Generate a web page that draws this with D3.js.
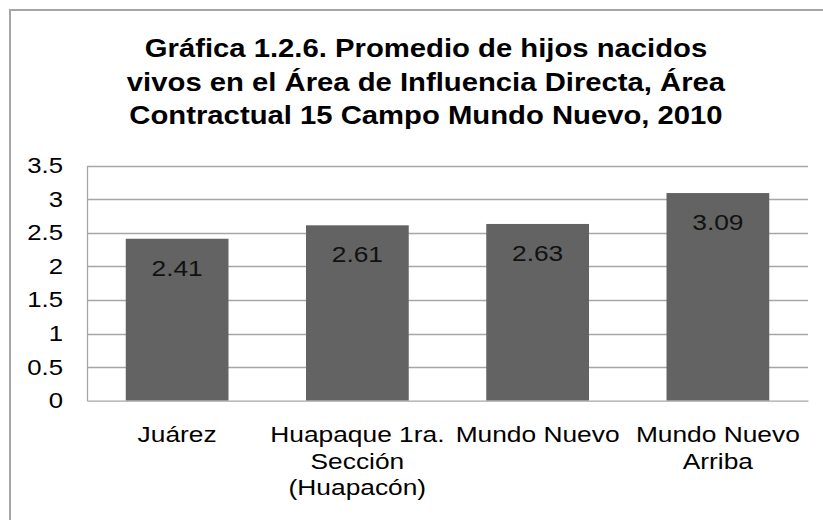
<!DOCTYPE html>
<html>
<head>
<meta charset="utf-8">
<script src="https://cdn.jsdelivr.net/npm/d3@7"></script>
<style>
  body { margin: 0; background: #fff; }
  text { font-family: "Liberation Sans", Arial, sans-serif; }
</style>
</head>
<body>
<script>
// datos
var categorias = [
  ["Juárez"],
  ["Huapaque 1ra.", "Sección", "(Huapacón)"],
  ["Mundo Nuevo"],
  ["Mundo Nuevo", "Arriba"]
];
var valores = [2.41, 2.61, 2.63, 3.09];
var ticksY = [0, 0.5, 1, 1.5, 2, 2.5, 3, 3.5];
var titulo = [
  "Gráfica 1.2.6. Promedio de hijos nacidos",
  "vivos en el Área de Influencia Directa, Área",
  "Contractual 15 Campo Mundo Nuevo, 2010"
];

var ancho = 823, alto = 520;
var plotIzq = 87, plotDer = 808, plotArriba = 165.5, plotAbajo = 400.7;
var estirar = 1.17; // el texto del original sale mas ancho

var svg = d3.select("body").append("svg")
  .attr("width", ancho)
  .attr("height", alto);

// marco
svg.append("rect")
  .attr("x", 10).attr("y", 10)
  .attr("width", 830).attr("height", 530)
  .attr("fill", "white")
  .attr("stroke", "#a6a6a6")
  .attr("stroke-width", 2);

// titulo
svg.append("g").selectAll("text")
  .data(titulo)
  .join("text")
  .attr("class", "ancho")
  .attr("x", 426)
  .attr("y", function(d, i) { return 57 + i * 33.5; })
  .attr("text-anchor", "middle")
  .attr("font-size", "25px")
  .attr("font-weight", "bold")
  .attr("fill", "#000")
  .text(function(d) { return d; });

var x = d3.scaleBand()
  .domain(d3.range(valores.length))
  .range([plotIzq, plotDer])
  .paddingInner(0.43)
  .paddingOuter(0.215);

var y = d3.scaleLinear()
  .domain([0, 3.5])
  .range([plotAbajo, plotArriba]);

// lineas de cuadricula
svg.append("g")
  .selectAll("line")
  .data(ticksY.slice(1))
  .join("line")
  .attr("x1", plotIzq).attr("x2", plotDer)
  .attr("y1", function(d) { return Math.round(y(d)) + 0.5; })
  .attr("y2", function(d) { return Math.round(y(d)) + 0.5; })
  .attr("stroke", "#a6a6a6")
  .attr("stroke-width", 1.3);

// eje Y
var ejeY = svg.append("g")
  .attr("transform", "translate(" + plotIzq + ",0)")
  .call(d3.axisLeft(y).tickValues(ticksY).tickSize(0).tickPadding(24)
    .tickFormat(function(d) { return String(d); }));
ejeY.select(".domain").attr("stroke", "#a6a6a6").attr("stroke-width", 1.3);
ejeY.selectAll("text")
  .attr("class", "ancho")
  .attr("font-size", "22px")
  .attr("fill", "#000")
  .attr("font-family", "Liberation Sans, Arial, sans-serif");

// barras
svg.append("g")
  .selectAll("rect")
  .data(valores)
  .join("rect")
  .attr("x", function(d, i) { return x(i); })
  .attr("y", function(d) { return y(d); })
  .attr("width", x.bandwidth())
  .attr("height", function(d) { return y(0) - y(d); })
  .attr("fill", "#636363");

// eje X
var ejeX = svg.append("g")
  .attr("transform", "translate(0," + plotAbajo + ")")
  .call(d3.axisBottom(x).tickSize(0).tickFormat(""));
ejeX.select(".domain").attr("stroke", "#a6a6a6").attr("stroke-width", 1.3);

// etiquetas de categoria
svg.append("g")
  .selectAll("text")
  .data(categorias)
  .join("text")
  .attr("x", function(d, i) { return x(i) + x.bandwidth() / 2; })
  .attr("y", 442)
  .attr("text-anchor", "middle")
  .attr("font-size", "22.5px")
  .attr("fill", "#000")
  .each(function(d) {
    var t = d3.select(this);
    d.forEach(function(linea, j) {
      t.append("tspan")
        .attr("class", "ancho")
        .attr("x", t.attr("x"))
        .attr("dy", j === 0 ? 0 : 26.5)
        .text(linea);
    });
  });

// etiquetas de datos
svg.append("g")
  .selectAll("text")
  .data(valores)
  .join("text")
  .attr("class", "ancho")
  .attr("x", function(d, i) { return x(i) + x.bandwidth() / 2; })
  .attr("y", function(d) { return y(d) + 37; })
  .attr("text-anchor", "middle")
  .attr("font-size", "22.5px")
  .attr("fill", "#111")
  .text(function(d) { return d.toFixed(2); });

// ensanchar los textos
svg.selectAll(".ancho").each(function() {
  var largo = this.getComputedTextLength();
  d3.select(this)
    .attr("textLength", largo * estirar)
    .attr("lengthAdjust", "spacingAndGlyphs");
});
</script>
</body>
</html>
